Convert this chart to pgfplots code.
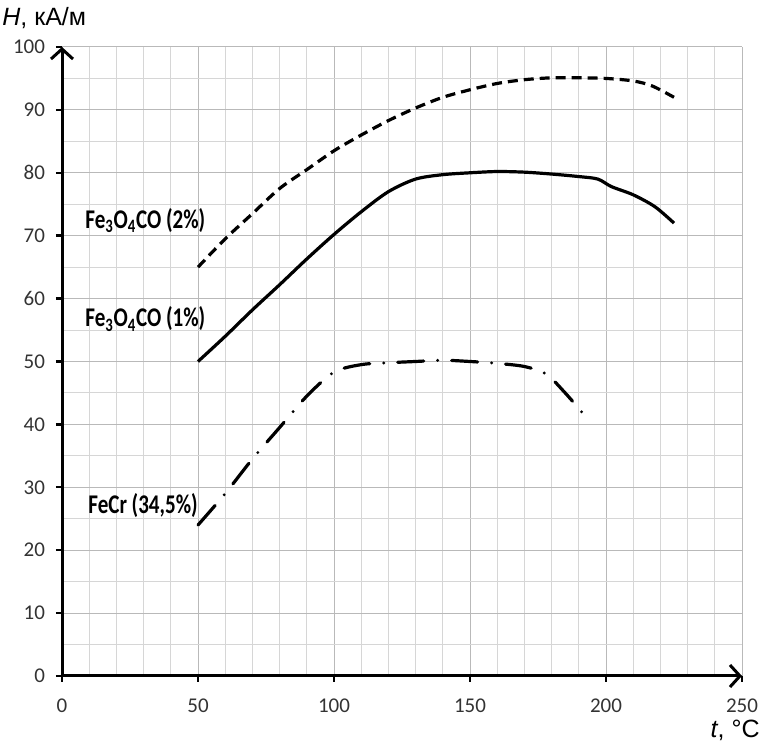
\documentclass[border=0pt]{standalone}
\usepackage{fontspec}
\setmainfont{Carlito}
\newfontfamily\arial{Liberation Sans}
\usepackage{pgfplots}
\pgfplotsset{compat=1.18}
\usetikzlibrary{arrows.meta}

\begin{document}
\begin{tikzpicture}
\begin{axis}[
  scale only axis, width=340pt, height=314.5pt,
  xmin=0, xmax=250, ymin=0, ymax=100,
  axis lines=left,
  axis line style={line width=1.5pt, -{Straight Barb[length=5pt,width=11pt,line width=1.5pt]}},
  xtick={0,50,...,250}, ytick={0,10,...,100},
  minor x tick num=4, minor y tick num=1,
  grid=both,
  major grid style={gray!55, line width=0.5pt},
  minor grid style={gray!32, line width=0.5pt},
  tick align=outside, major tick length=3pt, minor tick length=0pt,
  tick style={black, line width=1.2pt},
  /pgf/number format/assume math mode=true,
  ticklabel style={font=\fontsize{10.5}{12}\selectfont, text=black!80},
  xticklabel style={yshift=-5pt},
  yticklabel style={xshift=-2pt},
  clip=false,
]
% Fe3O4CO (2%)
\addplot[black, line width=1.6pt, smooth, dash pattern=on 5pt off 3pt] coordinates {
 (50,65) (60,69.5) (70,73.5) (80,77.5) (90,80.5) (100,83.5) (110,86)
 (120,88.3) (130,90.3) (140,92) (150,93.2) (160,94.2) (170,94.8)
 (180,95.1) (190,95.1) (200,95) (210,94.6) (217,93.8) (225,92)};
% Fe3O4CO (1%)
\addplot[black, line width=1.6pt, smooth] coordinates {
 (50,50) (60,54) (70,58.2) (80,62.2) (90,66.3) (100,70.2) (110,73.8)
 (120,77) (130,79) (140,79.7) (150,80) (160,80.2) (170,80.1) (180,79.8)
 (190,79.4) (197,79) (202,77.8) (210,76.5) (218,74.6) (225,72)};
% FeCr (34,5%)
\addplot[black, line width=1.6pt, smooth, line cap=round,
  dash pattern=on 13pt off 7pt on 0pt off 7pt] coordinates {
 (50,24) (60,29) (70,34.5) (80,39.5) (90,44.5) (100,48.3) (110,49.5)
 (120,49.8) (130,50) (140,50.2) (150,50) (160,49.7) (170,49.2) (178,48)
 (185,45) (193,41)};

\tikzset{curvelabel/.style={anchor=base west, inner sep=0pt, xscale=0.78,
  font=\bfseries\fontsize{13.5}{15}\selectfont}}
\node[curvelabel] at (axis cs:8.5,71.2) {Fe\textsubscript{3}O\textsubscript{4}CO (2\%)};
\node[curvelabel] at (axis cs:8.5,55.5) {Fe\textsubscript{3}O\textsubscript{4}CO (1\%)};
\node[curvelabel] at (axis cs:9.6,25.8) {FeCr (34,5\%)};

\node[anchor=west, inner sep=0pt, font=\arial\fontsize{12.5}{14}\selectfont] at ([xshift=-30pt,yshift=14.5pt]rel axis cs:0,1) {\textit{H}, кА/м};
\node[anchor=east, inner sep=0pt, font=\arial\fontsize{12.5}{14}\selectfont] at ([xshift=9pt,yshift=-27pt]rel axis cs:1,0) {\textit{t}, °C};

\coordinate (O) at (rel axis cs:0,0);
\coordinate (TR) at (rel axis cs:1,1);
\end{axis}
\pgfresetboundingbox
\path ([shift={(-31pt,-33pt)}]O) rectangle ([shift={(11pt,23.5pt)}]TR);
\end{tikzpicture}
\end{document}
